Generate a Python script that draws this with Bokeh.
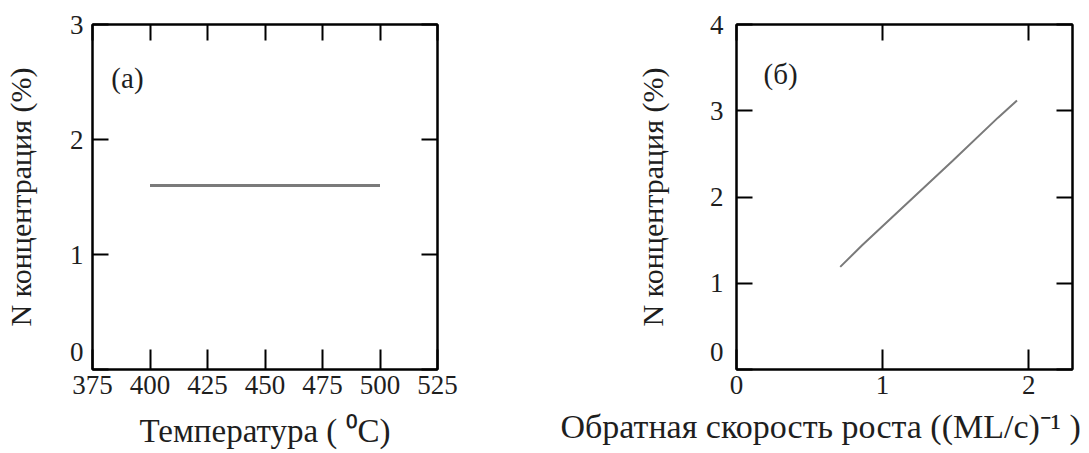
from bokeh.plotting import figure
from bokeh.layouts import row
from bokeh.models import LinearAxis, FixedTicker, Label, Title, Range1d
from bokeh.embed import file_html
from bokeh.resources import INLINE

# Panel (a): N concentration vs temperature
temp_c = [400, 500]
n_conc_a = [1.6, 1.6]
temp_ticks = [375, 400, 425, 450, 475, 500, 525]
conc_ticks_a = [0, 1, 2, 3]

# Panel (б): N concentration vs inverse growth rate
inv_rate = [0.71, 0.86, 1.17, 1.48, 1.79, 1.92]
n_conc_b = [1.19, 1.44, 1.93, 2.42, 2.92, 3.12]
rate_ticks = [0, 1, 2]
conc_ticks_b = [0, 1, 2, 3, 4]

FONT = "Liberation Serif"
INK = "#1e1e1e"
H = 453


def style_axis(ax, ticks, tick_len, show_labels=True):
    ax.ticker = FixedTicker(ticks=ticks)
    ax.axis_line_color = "black"
    ax.axis_line_width = 2
    ax.major_tick_line_color = "black"
    ax.major_tick_line_width = 2
    ax.major_tick_in = tick_len
    ax.major_tick_out = 0
    ax.minor_tick_line_color = None
    ax.major_label_text_font = FONT
    ax.axis_label_text_font = FONT
    ax.axis_label_text_font_style = "normal"
    ax.axis_label_text_color = INK
    if show_labels:
        ax.major_label_text_color = INK
        ax.major_label_text_font_size = "27px"
    else:
        ax.major_label_text_color = None
        ax.major_label_text_font_size = "1px"
        ax.major_label_standoff = 0
        ax.axis_label = None


def make_fig(width, xr, yr, xticks, yticks, mb_left, mb_right, mb_top, mb_bottom):
    p = figure(width=width, height=H, output_backend="svg", toolbar_location=None,
               x_range=Range1d(*xr), y_range=Range1d(*yr),
               min_border_left=mb_left, min_border_right=mb_right,
               min_border_top=mb_top, min_border_bottom=mb_bottom,
               x_axis_location="below", y_axis_location="left")
    p.grid.visible = False
    p.outline_line_color = "black"
    p.outline_line_width = 2
    p.background_fill_color = "white"
    p.border_fill_color = "white"
    xb = p.below[0]
    yl = p.left[0]
    style_axis(xb, xticks, 20)
    style_axis(yl, yticks, 16)
    xb.major_label_standoff = 6
    # the lowest y tick label sits a little above its tick
    yl.major_label_overrides = {0: "0\n"}
    top = LinearAxis()
    style_axis(top, xticks, 16, show_labels=False)
    p.add_layout(top, "above")
    right = LinearAxis()
    style_axis(right, yticks, 16, show_labels=False)
    p.add_layout(right, "right")
    return p, xb, yl


# ---- panel (a)
pa, xa, ya = make_fig(460, (375, 525), (0, 3), temp_ticks, conc_ticks_a, 92, 23, 22, H - 371)
xa.axis_label = "Температура ( ⁰C)"
xa.axis_label_text_font_size = "33px"
xa.axis_label_standoff = 16
ya.axis_label = "N концентрация (%)"
ya.axis_label_text_font_size = "30px"
ya.major_label_standoff = 9
ya.axis_label_standoff = 30
pa.line(temp_c, n_conc_a, line_color="#7a7a7a", line_width=3)
pa.add_layout(Label(x=383.2, y=2.536, text="(a)", text_font=FONT, text_font_size="29px",
                    text_color=INK, text_baseline="middle"))

# ---- panel (б)
pb, xb_, yb = make_fig(620, (0, 2.3), (0, 4), rate_ticks, conc_ticks_b, 276, 8, 24, H - 369)
yb.axis_label = "N концентрация (%)"
yb.axis_label_text_font_size = "30px"
yb.major_label_standoff = 13
yb.axis_label_standoff = 38
pb.line(inv_rate, n_conc_b, line_color="#7a7a7a", line_width=2)
pb.add_layout(Label(x=0.185, y=3.43, text="(б)", text_font=FONT, text_font_size="29px",
                    text_color=INK, text_baseline="middle"))
pb.add_layout(Title(text="Обратная скорость роста ((ML/c)⁻¹ )", align="left", offset=-176,
                    text_font=FONT, text_font_size="34px", text_font_style="normal",
                    text_color=INK, standoff=18), "below")

layout = row(pa, pb)
open("out.html", "w").write(file_html(layout, INLINE))
